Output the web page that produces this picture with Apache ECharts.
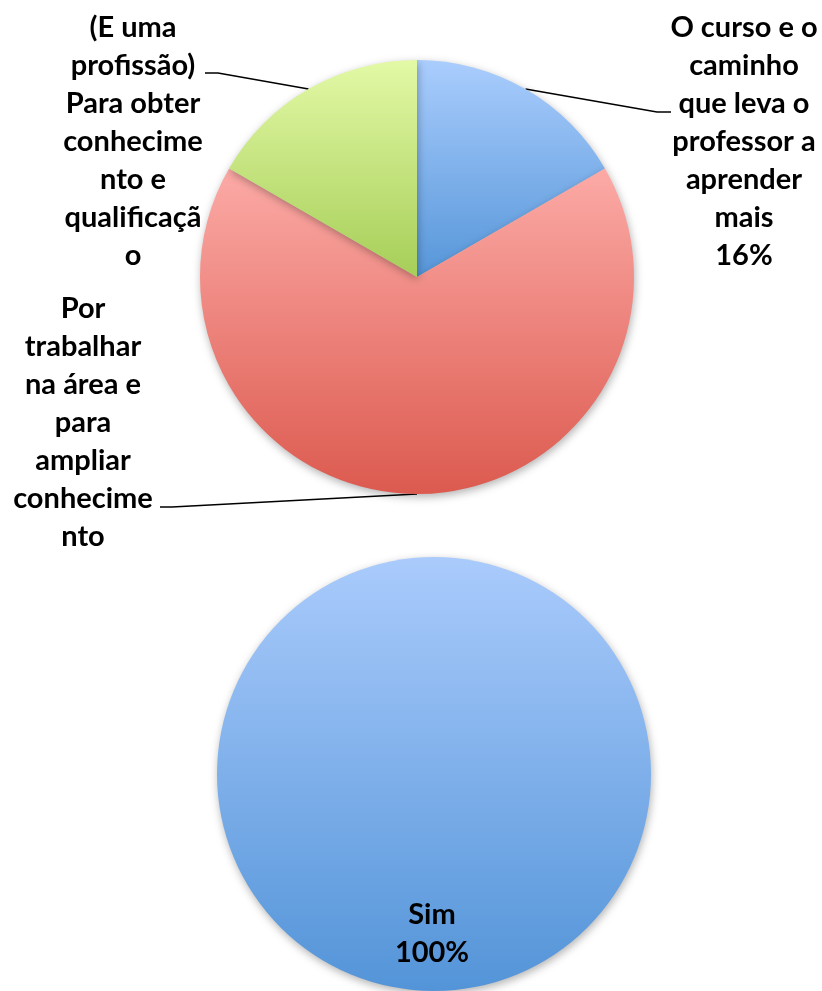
<!DOCTYPE html>
<html>
<head>
<meta charset="utf-8">
<script src="https://cdn.jsdelivr.net/npm/echarts@6/dist/echarts.min.js"></script>
<style>
  html, body { margin: 0; padding: 0; background: #fff; }
  #chart { width: 822px; height: 991px; }
</style>
</head>
<body>
<div id="chart"></div>
<script>
// pie 1: motivos (wrapped as in the original sheet)
const motivoNames = [
    'O curso e o\ncaminho\nque leva o\nprofessor a\naprender\nmais',
    'Por\ntrabalhar\nna área e\npara\nampliar\nconhecime\nnto',
    '(E uma\nprofissão)\nPara obter\nconhecime\nnto e\nqualificaçã\no'
];
const motivoValues = [1, 4, 1];
const motivoShowPct = [true, false, false];

// pie 2
const simNames = ['Sim'];
const simValues = [100];

function grad(top, bottom) {
    return {
        type: 'linear', x: 0, y: 0, x2: 0, y2: 1,
        colorStops: [
            { offset: 0, color: top },
            { offset: 1, color: bottom }
        ]
    };
}

const blueFill = grad('#aacdfd', '#5696d9');
const redFill = grad('#fcaaa6', '#dc5a4f');
const greenFill = grad('#e3f9a6', '#a6ce58');
const motivoFills = [blueFill, redFill, greenFill];

// label anchor + leader line ends (layout only)
const labelSpots = [
    { x: 744, y: 142, elbow: [657, 112], end: [671, 112] },
    { x: 83, y: 423, elbow: [172, 507], end: [160, 507] },
    { x: 133, y: 142, elbow: [218, 73], end: [205, 73] }
];

const textStyle = {
    fontFamily: 'Lato',
    fontWeight: 'bold',
    fontSize: 29,
    lineHeight: 38,
    color: '#000'
};

const shadow = {
    shadowBlur: 8,
    shadowOffsetX: 1,
    shadowOffsetY: 3,
    shadowColor: 'rgba(0,0,0,0.3)'
};

const chart = echarts.init(document.getElementById('chart'));

const option = {
    animation: false,
    backgroundColor: '#fff',
    series: [
        {
            type: 'pie',
            center: [417, 277],
            radius: 217,
            startAngle: 90,
            clockwise: true,
            silent: true,
            avoidLabelOverlap: false,
            data: motivoNames.map((n, i) => ({
                name: n,
                value: motivoValues[i],
                itemStyle: { color: motivoFills[i], ...shadow }
            })),
            label: {
                show: true,
                position: 'outside',
                ...textStyle,
                formatter: (p) => p.name + (motivoShowPct[p.dataIndex] ? '\n' + Math.floor(p.percent) + '%' : '')
            },
            labelLine: {
                show: true,
                lineStyle: { color: '#000', width: 1.6 }
            },
            labelLayout: (params) => {
                const s = labelSpots[params.dataIndex];
                const pts = params.labelLinePoints;
                return {
                    x: s.x,
                    y: s.y,
                    align: 'center',
                    verticalAlign: 'middle',
                    labelLinePoints: [pts[0], s.elbow, s.end]
                };
            }
        },
        {
            type: 'pie',
            center: [434, 774],
            radius: 217,
            startAngle: 90,
            silent: true,
            data: simNames.map((n, i) => ({
                name: n,
                value: simValues[i],
                itemStyle: { color: grad('#aacbfc', '#5394d8'), ...shadow }
            })),
            label: {
                show: true,
                position: 'inside',
                ...textStyle,
                formatter: '{b}\n{d}%'
            },
            labelLine: { show: false },
            labelLayout: () => ({ x: 432, y: 934, align: 'center', verticalAlign: 'middle' })
        }
    ]
};

chart.setOption(option);
</script>
</body>
</html>
